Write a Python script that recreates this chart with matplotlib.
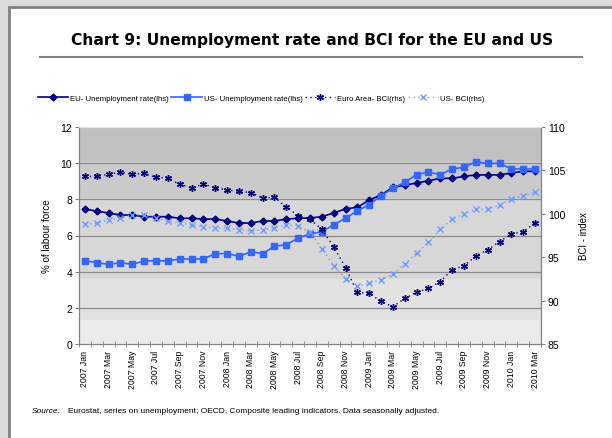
import matplotlib.pyplot as plt
from matplotlib.lines import Line2D
from matplotlib.patches import Rectangle

plt.rcParams["font.family"] = ["Liberation Sans", "DejaVu Sans"]

months = [
    "2007 Jan", "2007 Feb", "2007 Mar", "2007 Apr", "2007 May", "2007 Jun",
    "2007 Jul", "2007 Aug", "2007 Sep", "2007 Oct", "2007 Nov", "2007 Dec",
    "2008 Jan", "2008 Feb", "2008 Mar", "2008 Apr", "2008 May", "2008 Jun",
    "2008 Jul", "2008 Aug", "2008 Sep", "2008 Oct", "2008 Nov", "2008 Dec",
    "2009 Jan", "2009 Feb", "2009 Mar", "2009 Apr", "2009 May", "2009 Jun",
    "2009 Jul", "2009 Aug", "2009 Sep", "2009 Oct", "2009 Nov", "2009 Dec",
    "2010 Jan", "2010 Feb", "2010 Mar",
]

# unemployment, % of labour force (left axis)
eu_unemp = [
    7.47, 7.34, 7.25, 7.13, 7.13, 7.04, 7.04, 7.04, 6.95, 6.95, 6.91, 6.91,
    6.80, 6.69, 6.69, 6.80, 6.80, 6.91, 6.95, 6.97, 7.04, 7.25, 7.47, 7.56,
    7.96, 8.24, 8.66, 8.79, 8.90, 9.03, 9.16, 9.16, 9.27, 9.35, 9.35, 9.35,
    9.46, 9.55, 9.55,
]
us_unemp = [
    4.6, 4.5, 4.4, 4.5, 4.4, 4.6, 4.6, 4.6, 4.7, 4.7, 4.7, 5.0,
    5.0, 4.85, 5.1, 5.0, 5.4, 5.5, 5.85, 6.1, 6.2, 6.6, 6.95, 7.37,
    7.7, 8.2, 8.6, 8.95, 9.37, 9.5, 9.37, 9.68, 9.77, 10.08, 9.99, 9.99,
    9.68, 9.68, 9.68,
]

# business confidence indicators (right axis)
ea_bci = [
    104.3, 104.3, 104.55, 104.8, 104.55, 104.65, 104.2, 104.1, 103.4, 103.0,
    103.4, 103.0, 102.75, 102.6, 102.45, 101.8, 101.9, 100.75, 99.8, 99.4,
    98.2, 96.2, 93.8, 90.95, 90.85, 89.9, 89.3, 90.25, 90.95, 91.4,
    92.2, 93.55, 94.0, 95.15, 95.85, 96.8, 97.65, 97.95, 98.95,
]
us_bci = [
    98.85, 98.9, 99.3, 99.5, 99.9, 99.85, 99.5, 99.15, 98.95, 98.7,
    98.5, 98.35, 98.35, 98.17, 98.03, 98.13, 98.4, 98.7, 98.63, 97.85,
    96.0, 94.0, 92.5, 91.7, 92.0, 92.4, 93.05, 94.2, 95.5, 96.7,
    98.2, 99.4, 100.0, 100.5, 100.55, 101.0, 101.7, 102.1, 102.5,
]

NAVY = "#000080"
BLUE = "#3366ff"
LIGHT = "#6f9bff"

fig = plt.figure(figsize=(6.12, 4.39), dpi=100)
fig.patch.set_facecolor("#dcdcdc")

# white page with a grey edge on the left and top
page = Rectangle((9 / 612, -0.1), 1.2, 1.1 - 8 / 439, transform=fig.transFigure,
                 facecolor="white", edgecolor="#808080", linewidth=2, zorder=-10)
fig.add_artist(page)

fig.text(0.51, 1 - 40 / 439, "Chart 9: Unemployment rate and BCI for the EU and US",
         ha="center", va="center", fontsize=11.2, fontweight="bold",
         family="DejaVu Sans")
fig.add_artist(Line2D([40 / 612, 582 / 612], [1 - 58 / 439, 1 - 58 / 439],
                      transform=fig.transFigure, color="#808080", linewidth=1.5))

ax = fig.add_axes([79 / 612, 1 - 345 / 439, 462 / 612, 217 / 439])
ax2 = ax.twinx()

x = list(range(len(months)))

# stepped grey fill behind the plot
bands = [(0, 1.35, "#ebebeb"), (1.35, 3.6, "#e2e2e2"), (3.6, 8.1, "#d7d7d7"),
         (8.1, 10.1, "#cacaca"), (10.1, 12, "#c0c0c0")]
for lo, hi, c in bands:
    ax.axhspan(lo, hi, color=c, zorder=0, linewidth=0)

for yv in [2, 4, 6, 8, 10]:
    ax.axhline(yv, color="#8c8c8c", linewidth=0.9, zorder=1)

ax.plot(x, eu_unemp, color=NAVY, marker="D", markersize=3.5, linewidth=1.2, zorder=3)
ax.plot(x, us_unemp, color=BLUE, marker="s", markersize=4.5, linewidth=1.2, zorder=3)
ax2.plot(x, ea_bci, color=NAVY, marker=(6, 2, 0), markersize=5, markeredgewidth=1,
         linestyle=(0, (1, 2.5)), linewidth=1.0)
ax2.plot(x, us_bci, color=LIGHT, marker="x", markersize=4.5, markeredgewidth=1,
         linestyle=(0, (1, 2.5)), linewidth=1.0)

ax.set_xlim(-0.5, len(months) - 0.5)
ax.set_ylim(0, 12)
ax2.set_ylim(85, 110)
ax.set_yticks(range(0, 13, 2))
ax2.set_yticks(range(85, 111, 5))

ax.set_xticks(x[::2])
ax.set_xticklabels(months[::2], rotation=90, fontsize=6.3)
ax.set_xticks([i - 0.5 for i in range(len(months) + 1)], minor=True)
ax.tick_params(axis="x", which="major", length=0, pad=4)
ax.tick_params(axis="x", which="minor", length=5, direction="inout", color="#808080")
ax.tick_params(axis="y", labelsize=7.5, length=3, color="#808080", pad=2)
ax2.tick_params(axis="y", labelsize=7.5, length=3, color="#808080", pad=2)

for a in (ax, ax2):
    for side in ("left", "right", "bottom"):
        a.spines[side].set_color("#808080")
    a.spines["top"].set_color("#e6e6e6")

ax.set_ylabel("% of labour force", fontsize=7, labelpad=6)
ax2.set_ylabel("BCI - index", fontsize=7, labelpad=10)

handles = [
    Line2D([], [], color=NAVY, marker="D", markersize=3.5, linewidth=1.2),
    Line2D([], [], color=BLUE, marker="s", markersize=4.5, linewidth=1.2),
    Line2D([], [], color=NAVY, marker=(6, 2, 0), markersize=5, linestyle=(0, (1, 2.5)), linewidth=1.0),
    Line2D([], [], color=LIGHT, marker="x", markersize=4.5, linestyle=(0, (1, 2.5)), linewidth=1.0),
]
labels = ["EU- Unemployment rate(lhs)", "US- Unemployment rate(lhs)",
          "Euro Area- BCI(rhs)", "US- BCI(rhs)"]
fig.legend(handles, labels, loc="center left", bbox_to_anchor=(38 / 612, 1 - 99 / 439),
           ncol=4, frameon=False, fontsize=5.6, handlelength=3.9, handletextpad=0.25,
           columnspacing=0.3, borderpad=0, borderaxespad=0)

fig.text(32 / 612, 1 - 412 / 439, "Source:", fontsize=6, style="italic", va="center")
fig.text(68 / 612, 1 - 412 / 439,
         "Eurostat, series on unemployment; OECD, Composite leading indicators. "
         "Data seasonally adjusted.", fontsize=6, va="center")

fig.savefig("out.png", dpi=100)
